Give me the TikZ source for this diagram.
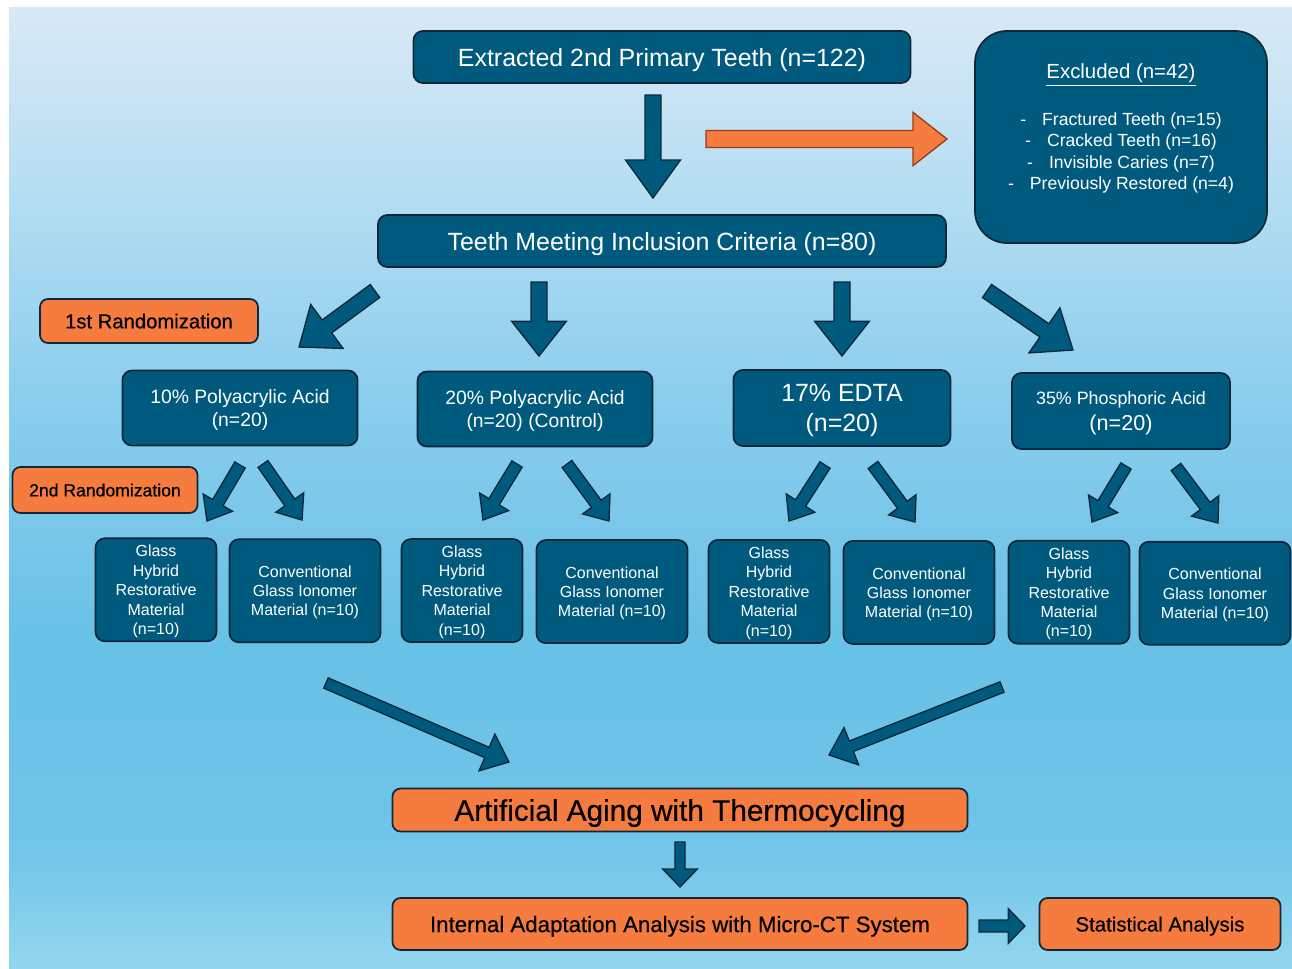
\documentclass[tikz,border=0pt]{standalone}
\usepackage{fontspec}
\setmainfont{Liberation Sans}
\newfontfamily\heavysans[FakeBold=0.5]{Liberation Sans}
\usetikzlibrary{calc}
\definecolor{bxBlue}{RGB}{0,90,126}
\definecolor{bxEdge}{RGB}{14,40,58}
\definecolor{bxOrange}{RGB}{245,124,62}
\definecolor{orEdge}{RGB}{150,60,22}
\definecolor{bgTop}{RGB}{217,233,246}
\definecolor{bgHigh}{RGB}{180,221,242}
\definecolor{bgUp}{RGB}{140,206,237}
\definecolor{bgMid}{RGB}{104,193,230}
\definecolor{bgLow}{RGB}{112,197,232}
\definecolor{bgBot}{RGB}{148,214,238}
\pgfdeclareverticalshading{panelshade}{100bp}{color(0bp)=(bgBot); color(25bp)=(bgBot); color(31bp)=(bgLow); color(42bp)=(bgMid); color(55bp)=(bgUp); color(65bp)=(bgHigh); color(75bp)=(bgTop); color(100bp)=(bgTop)}
\newcommand{\fsz}[2]{\fontsize{#1}{#2}\selectfont}
% block arrow: [style]{start}{tip}{half shaft}{half head}{head length}
\newcommand{\blockarrow}[6][arrowblue]{%
  \coordinate (ba-base) at ($(#3)!#6!(#2)$);
  \draw[#1] ($(#2)!#4!90:(#3)$) -- ($(ba-base)!#4!90:(#3)$)
    -- ($(ba-base)!#5!90:(#3)$) -- (#3)
    -- ($(ba-base)!#5!-90:(#3)$) -- ($(ba-base)!#4!-90:(#3)$)
    -- ($(#2)!#4!-90:(#3)$) -- cycle;
}
\tikzset{
  bluebox/.style={draw=bxEdge, fill=bxBlue, line width=1.3pt, rounded corners=7pt,
    text=white, align=center, inner sep=0pt, text depth=0pt},
  orangebox/.style={draw=bxEdge, fill=bxOrange, line width=1.3pt, rounded corners=6pt,
    text=black, align=center, inner sep=0pt, text depth=0pt},
  arrowblue/.style={draw=bxEdge, fill=bxBlue, line width=1pt, line join=miter},
  arroworange/.style={draw=orEdge, fill=bxOrange, line width=1pt, line join=miter},
  ghrbox/.style={bluebox, minimum width=90.75pt, minimum height=77.25pt, font=\fsz{12}{14.6}},
  cgibox/.style={bluebox, minimum width=113.25pt, minimum height=77.25pt, font=\fsz{12}{14.4}},
}
\begin{document}
\begin{tikzpicture}[x=0.75pt,y=-0.75pt]
  \useasboundingbox (0,0) rectangle (1292,968);
  \shade[shading=panelshade] (9,7) rectangle (1292,968);

  % top part
  \node[bluebox, minimum width=372.75pt, minimum height=39pt, font=\fsz{18.7}{22}]
    (extracted) at (662,57) {Extracted 2nd Primary Teeth (n=122)};
  \node[bluebox, rounded corners=24pt, minimum width=219pt, minimum height=159pt]
    (excluded) at (1121,137) {};
  \node[text=white, font=\fsz{15.3}{18}] (exhead) at (1121,75) {\underline{Excluded (n=42)}};
  \node[text=white, align=center, font=\fsz{13.2}{16.1}] (exlist) at (1121,153)
    {-\hspace{12pt}Fractured Teeth (n=15)\\
     -\hspace{12pt}Cracked Teeth (n=16)\\
     -\hspace{12pt}Invisible Caries (n=7)\\
     -\hspace{12pt}Previously Restored (n=4)};
  \node[bluebox, minimum width=426pt, minimum height=39pt, font=\fsz{18.7}{22}]
    (inclusion) at (662,241) {Teeth Meeting Inclusion Criteria (n=80)};

  \coordinate (d1s) at (653,95);   \coordinate (d1t) at (653,198);
  \coordinate (o1s) at (706,139);  \coordinate (o1t) at (947,139);
  \blockarrow{d1s}{d1t}{6pt}{20.6pt}{28.5pt}
  \blockarrow[arroworange]{o1s}{o1t}{6.4pt}{20pt}{25.5pt}

  % first randomization
  \node[orangebox, minimum width=163.5pt, minimum height=33pt, font=\heavysans\fsz{15.2}{18}]
    (rand1) at (149,321) {1st Randomization};
  \node[bluebox, minimum width=176.25pt, minimum height=56.25pt, font=\fsz{14.5}{17.3}]
    (pa10) at (240,408) {10\% Polyacrylic Acid\\(n=20)};
  \node[bluebox, minimum width=176.25pt, minimum height=56.25pt, font=\fsz{14.5}{17.3}]
    (pa20) at (535,409) {20\% Polyacrylic Acid\\(n=20) (Control)};
  \node[bluebox, minimum width=162.75pt, minimum height=57pt, font=\fsz{18.7}{23}]
    (edta) at (842,408) {17\% EDTA\\(n=20)};
  \node[bluebox, minimum width=163.5pt, minimum height=57pt, font=\fsz{13.4}{18.8}]
    (pho) at (1121,411) {35\% Phosphoric Acid\\{\fsz{16.2}{18.8}(n=20)}};

  \foreach \sx/\sy/\tx/\ty [count=\k] in
    {375/291/299/347, 539/282/539/356, 842/282/842/356, 987/291/1073/350}{
    \coordinate (r1s\k) at (\sx,\sy);
    \coordinate (r1t\k) at (\tx,\ty);
    \blockarrow{r1s\k}{r1t\k}{6pt}{20.5pt}{26pt}
  }

  % second randomization
  \node[orangebox, minimum width=138.75pt, minimum height=34.5pt, font=\heavysans\fsz{13.2}{16}]
    (rand2) at (105,490) {2nd Randomization};
  \foreach \gx/\cx [count=\g] in {156/305, 462/612, 769/919, 1069/1215}{
    \node[ghrbox] (ghr\g) at (\gx,589+\g*0.8) {Glass\\Hybrid\\Restorative\\Material\\(n=10)};
    \node[cgibox] (cgi\g) at (\cx,590+\g*0.8) {Conventional\\Glass Ionomer\\Material (n=10)};
  }
  \foreach \sx/\sy/\tx/\ty [count=\k] in
    {240/465/207/521, 263/464/302/520, 517/464/483/520, 567/464/609/521,
     825/465/789/521, 873/465/915/522, 1126/466/1092/522, 1176/467/1218/523}{
    \coordinate (r2s\k) at (\sx,\sy);
    \coordinate (r2t\k) at (\tx,\ty);
    \blockarrow{r2s\k}{r2t\k}{4.5pt}{12.75pt}{16pt}
  }

  % aging and analysis
  \coordinate (c1s) at (326,683);  \coordinate (c1t) at (509,762);
  \coordinate (c2s) at (1002,687); \coordinate (c2t) at (829,755);
  \blockarrow{c1s}{c1t}{4.2pt}{15pt}{18pt}
  \blockarrow{c2s}{c2t}{4.2pt}{15pt}{18pt}

  \node[orangebox, minimum width=431.25pt, minimum height=32.25pt, font=\heavysans\fsz{22.3}{26}]
    (aging) at (680,810) {Artificial Aging with Thermocycling};
  \node[orangebox, minimum width=431.25pt, minimum height=39pt, font=\heavysans\fsz{16.7}{20}]
    (micro) at (680,924) {Internal Adaptation Analysis with Micro-CT System};
  \node[orangebox, minimum width=180.75pt, minimum height=39pt, font=\heavysans\fsz{15.3}{18}]
    (stats) at (1160,924) {Statistical Analysis};

  \coordinate (d2s) at (680,842);  \coordinate (d2t) at (680,887);
  \coordinate (d3s) at (979,926);  \coordinate (d3t) at (1025,926);
  \blockarrow{d2s}{d2t}{3.8pt}{13pt}{13.5pt}
  \blockarrow{d3s}{d3t}{4.5pt}{13pt}{12.5pt}
\end{tikzpicture}
\end{document}
